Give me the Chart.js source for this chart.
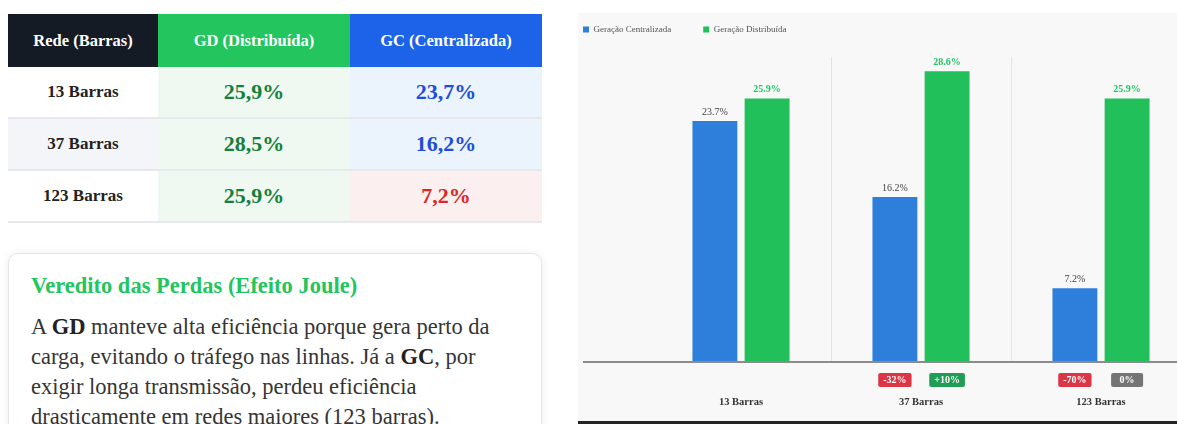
<!DOCTYPE html>
<html lang="pt-BR">
<head>
<meta charset="utf-8">
<title>Eficiência GD x GC</title>
<script src="https://cdn.jsdelivr.net/npm/chart.js"></script>
<style>
  body { margin: 0; background: #fff; font-family: "Liberation Serif", serif; }

  .tabela {
    position: absolute; left: 8px; top: 14px; width: 534px;
    border-collapse: collapse; table-layout: fixed;
  }
  .tabela th {
    height: 53px; padding: 0; color: #fff; font-size: 16.5px; font-weight: bold; text-align: center;
  }
  .tabela .h-rede { background: #151b25; }
  .tabela .h-gd { background: #22c55e; }
  .tabela .h-gc { background: #1d63ea; }
  .tabela td {
    height: 50px; padding: 0; text-align: center; border-bottom: 2px solid #e7e8ec;
    font-weight: bold;
  }
  .tabela .rede { font-size: 17px; color: #222; background: #fff; }
  .tabela .par .rede { background: #f4f5f9; }
  .tabela .gd { font-size: 22px; color: #15803d; background: #eff8f1; }
  .tabela .gc { font-size: 22px; color: #1d4ed8; background: #ebf3fd; }
  .tabela .gc.ruim { color: #dc2626; background: #fbefef; }

  .veredito {
    position: absolute; left: 8px; top: 253px; width: 534px; height: 220px;
    box-sizing: border-box; padding: 18px 22px; background: #fff;
    border: 1.5px solid #e4e6ea; border-radius: 10px;
    box-shadow: 0 0 8px rgba(0, 0, 0, 0.07);
  }
  .veredito h3 {
    margin: 0 0 12.5px; font-size: 22.5px; line-height: 27px; color: #22c55e;
  }
  .veredito p {
    margin: 0; font-size: 22.5px; line-height: 30px; color: #353535;
  }
  .veredito b { color: #222; }

  .grafico {
    position: absolute; left: 578px; top: 13px; width: 599px; height: 408px;
    background: #f8f8f8; border-bottom: 3px solid #242424; overflow: hidden;
  }
  .grafico canvas { position: absolute; left: -27px; top: -20px; }
</style>
</head>
<body>

<table class="tabela">
  <colgroup><col style="width:150px"><col style="width:192px"><col style="width:192px"></colgroup>
  <thead>
    <tr><th class="h-rede">Rede (Barras)</th><th class="h-gd">GD (Distribuída)</th><th class="h-gc">GC (Centralizada)</th></tr>
  </thead>
  <tbody>
    <tr><td class="rede">13 Barras</td><td class="gd">25,9%</td><td class="gc">23,7%</td></tr>
    <tr class="par"><td class="rede">37 Barras</td><td class="gd">28,5%</td><td class="gc">16,2%</td></tr>
    <tr><td class="rede">123 Barras</td><td class="gd">25,9%</td><td class="gc ruim">7,2%</td></tr>
  </tbody>
</table>

<div class="veredito">
  <h3>Veredito das Perdas (Efeito Joule)</h3>
  <p>A <b>GD</b> manteve alta eficiência porque gera perto da<br>carga, evitando o tráfego nas linhas. Já a <b>GC</b>, por<br>exigir longa transmissão, perdeu eficiência<br>drasticamente em redes maiores (123 barras).</p>
</div>

<div class="grafico">
  <canvas id="grafico" width="640" height="451"></canvas>
</div>

<script>
const categorias = ['13 Barras', '37 Barras', '123 Barras'];
const eficienciaGC = [23.7, 16.2, 7.2];
const eficienciaGD = [25.9, 28.6, 25.9];
const cores = ['#2e7fdc', '#21c05b'];

Chart.defaults.font.family = '"Liberation Serif", serif';

// valor em cima de cada barra
const rotulosValor = {
  id: 'rotulosValor',
  afterDatasetsDraw(chart) {
    const ctx = chart.ctx;
    chart.data.datasets.forEach((ds, i) => {
      chart.getDatasetMeta(i).data.forEach((bar, j) => {
        ctx.save();
        ctx.font = (i === 1 ? 'bold ' : '') + '10px "Liberation Serif"';
        ctx.fillStyle = i === 1 ? '#22c55e' : '#444';
        ctx.textAlign = 'center';
        ctx.textBaseline = 'bottom';
        ctx.fillText(ds.data[j].toFixed(1) + '%', bar.x, bar.y - 4);
        ctx.restore();
      });
    });
  }
};

// linha de base + selos de variacao em relacao a 13 barras
const variacao = {
  id: 'variacao',
  afterDatasetsDraw(chart) {
    const {ctx, chartArea} = chart;
    const x0 = chart.legend.left + chart.options.plugins.legend.labels.padding;
    ctx.save();
    ctx.strokeStyle = '#8c8c8c';
    ctx.lineWidth = 2;
    ctx.beginPath();
    ctx.moveTo(x0, chartArea.bottom + 0.5);
    ctx.lineTo(chartArea.right, chartArea.bottom + 0.5);
    ctx.stroke();

    ctx.font = 'bold 10px "Liberation Serif"';
    ctx.textAlign = 'center';
    ctx.textBaseline = 'middle';
    chart.data.datasets.forEach((ds, i) => {
      const base = ds.data[0];
      chart.getDatasetMeta(i).data.forEach((bar, j) => {
        if (j === 0) return;
        const pct = Math.round((ds.data[j] / base - 1) * 100);
        const txt = (pct > 0 ? '+' : '') + pct + '%';
        const w = Math.max(ctx.measureText(txt).width + 10, 32);
        const h = 14;
        const cy = chartArea.bottom + 18.5;
        ctx.fillStyle = pct < 0 ? '#dc3545' : (pct > 0 ? '#1f9d55' : '#757575');
        ctx.beginPath();
        ctx.roundRect(bar.x - w / 2, cy - h / 2, w, h, 2);
        ctx.fill();
        ctx.fillStyle = '#fff';
        ctx.fillText(txt, bar.x, cy + 0.5);
      });
    });
    ctx.restore();
  }
};

new Chart(document.getElementById('grafico'), {
  type: 'bar',
  data: {
    labels: categorias,
    datasets: [
      {
        label: 'Geração Centralizada',
        data: eficienciaGC,
        backgroundColor: cores[0],
        categoryPercentage: 0.58,
        barPercentage: 0.86
      },
      {
        label: 'Geração Distribuída',
        data: eficienciaGD,
        backgroundColor: cores[1],
        categoryPercentage: 0.58,
        barPercentage: 0.86
      }
    ]
  },
  options: {
    responsive: false,
    animation: false,
    plugins: {
      legend: {
        position: 'top',
        align: 'start',
        labels: { boxWidth: 6, boxHeight: 6, padding: 32, color: '#555', font: { size: 9 } }
      },
      tooltip: { enabled: false }
    },
    scales: {
      x: {
        grid: {
          color: c => (c.index > 0 && c.index < categorias.length) ? '#e4e4e4' : 'transparent',
          drawTicks: false
        },
        border: { display: false },
        ticks: { padding: 35, color: '#333', font: { size: 10.5, weight: 'bold' } }
      },
      topo: {
        type: 'category',
        position: 'top',
        labels: categorias,
        grid: { display: false },
        border: { display: false },
        ticks: { display: false },
        afterFit: s => { s.height = 13; }
      },
      y: {
        min: 0,
        max: 30,
        grid: { display: false },
        border: { display: false },
        ticks: { display: false },
        afterFit: s => { s.width = 100; }
      }
    }
  },
  plugins: [rotulosValor, variacao]
});
</script>
</body>
</html>
